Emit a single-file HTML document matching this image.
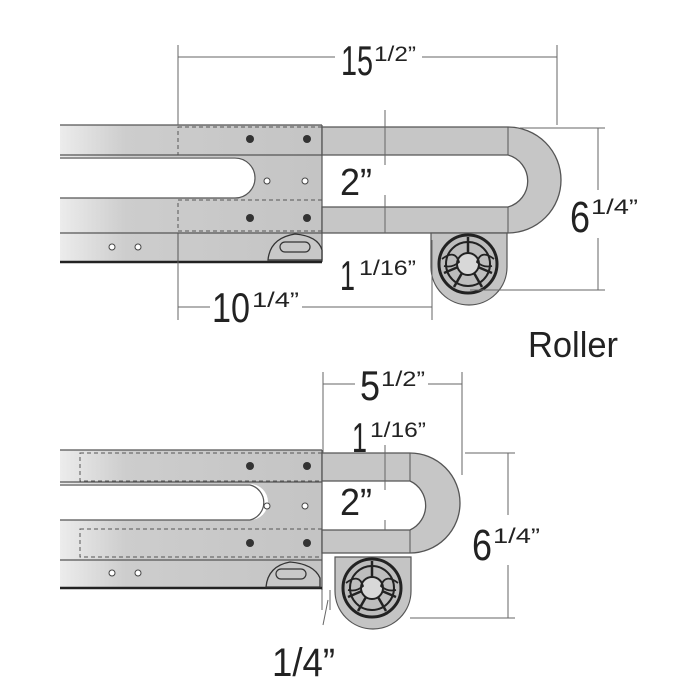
<!DOCTYPE html>
<html><head><meta charset="utf-8"><style>
html,body{margin:0;padding:0;background:#fff;}
svg{display:block}
text{font-family:"Liberation Sans",Arial,sans-serif;fill:#222;}
</style></head><body>
<svg width="700" height="700" viewBox="0 0 700 700" xmlns="http://www.w3.org/2000/svg">
<defs>
<linearGradient id="g" x1="0" x2="1" y1="0" y2="0">
<stop offset="0" stop-color="#ececec"/><stop offset="0.25" stop-color="#cdcdcd"/><stop offset="1" stop-color="#c4c4c4"/>
</linearGradient>
<g id="wheel">
<path d="M-37,-31 H39 V3 A38,38 0 0 1 -37,3 Z" fill="#c4c4c4" stroke="#555" stroke-width="1.2"/>
<circle r="29" fill="#bdbdbd" stroke="#222" stroke-width="3"/>
<circle r="22" fill="none" stroke="#222" stroke-width="2"/>
<circle r="11" fill="#d8d8d8" stroke="#222" stroke-width="2"/>
<g stroke="#222" stroke-width="2.5">
<line x1="0" y1="-11" x2="0" y2="-27"/><line x1="10" y1="3" x2="24" y2="9"/><line x1="-10" y1="3" x2="-24" y2="9"/>
<line x1="6" y1="9" x2="14" y2="23"/><line x1="-6" y1="9" x2="-14" y2="23"/>
</g>
<path d="M-26,-5 Q-13,-15 -9,-2 Q-15,4 -24,2" fill="none" stroke="#222" stroke-width="1.8"/>
<path d="M26,-5 Q13,-15 9,-2 Q15,4 24,2" fill="none" stroke="#222" stroke-width="1.8"/>
</g>
</defs>

<!-- ============ TOP ASSEMBLY ============ -->
<g>
<rect x="60" y="125" width="262" height="137" fill="url(#g)"/>
<path d="M60,157 H235 A20,20 0 0 1 235,198 H60 Z" fill="#fff"/>
<g stroke="#555" stroke-width="1.2" fill="none">
<line x1="60" y1="125" x2="322" y2="125"/>
<line x1="60" y1="155" x2="322" y2="155"/>
<path d="M60,158 H235 A20,20 0 0 1 235,198 H60"/>
<line x1="60" y1="233" x2="322" y2="233"/>
<line x1="322" y1="125" x2="322" y2="262"/>
</g>
<line x1="60" y1="262" x2="322" y2="262" stroke="#222" stroke-width="2.5"/>
<g stroke="#555" stroke-width="1" stroke-dasharray="4,3" fill="none">
<rect x="178" y="127" width="144" height="28"/>
<rect x="178" y="200" width="144" height="31"/>
</g>
<line x1="178" y1="233" x2="178" y2="262" stroke="#555" stroke-width="1"/>
<g fill="#333"><circle cx="250" cy="139" r="4"/><circle cx="307" cy="139" r="4"/><circle cx="250" cy="218" r="4"/><circle cx="307" cy="218" r="4"/></g>
<g fill="#fff" stroke="#444" stroke-width="1"><circle cx="267" cy="181" r="3"/><circle cx="305" cy="181" r="3"/><circle cx="112" cy="247" r="3"/><circle cx="138" cy="247" r="3"/></g>
<path d="M268,260 Q270,238 295,234 Q318,236 322,250 V260 Z" fill="#c8c8c8" stroke="#333" stroke-width="1.3"/>
<rect x="280" y="242" width="30" height="10" rx="5" fill="none" stroke="#333" stroke-width="1.2"/>
<path d="M322,127 H508 A53,53 0 0 1 508,233 H322 V207 H508 A27,27 0 0 0 508,155 H322 Z" fill="#c6c6c6" stroke="#555" stroke-width="1.3"/>
<line x1="508" y1="127" x2="508" y2="155" stroke="#555"/>
<line x1="508" y1="207" x2="508" y2="233" stroke="#555"/>
<use href="#wheel" x="468" y="264"/>
</g>

<!-- top dimensions -->
<g stroke="#666" stroke-width="1" fill="none">
<line x1="178" y1="45" x2="178" y2="125"/><line x1="557" y1="45" x2="557" y2="125"/>
<line x1="178" y1="57" x2="335" y2="57"/><line x1="422" y1="57" x2="557" y2="57"/>
<line x1="385" y1="110" x2="385" y2="155"/><line x1="385" y1="155" x2="385" y2="165"/><line x1="385" y1="195" x2="385" y2="207"/><line x1="385" y1="207" x2="385" y2="233"/>
<line x1="520" y1="128" x2="605" y2="128"/><line x1="470" y1="290" x2="605" y2="290"/>
<line x1="598" y1="128" x2="598" y2="190"/><line x1="598" y1="238" x2="598" y2="290"/>
<line x1="178" y1="262" x2="178" y2="320"/><line x1="432" y1="240" x2="432" y2="320"/>
<line x1="178" y1="307" x2="210" y2="307"/><line x1="302" y1="307" x2="432" y2="307"/>
</g>
<text x="341" y="75" font-size="42" textLength="32" lengthAdjust="spacingAndGlyphs">15</text>
<text x="374" y="61" font-size="21" textLength="42" lengthAdjust="spacingAndGlyphs">1/2”</text>
<text x="340" y="195" font-size="38" textLength="32" lengthAdjust="spacingAndGlyphs">2”</text>
<text x="340" y="290" font-size="42" textLength="15" lengthAdjust="spacingAndGlyphs">1</text>
<text x="359" y="275" font-size="21" textLength="57" lengthAdjust="spacingAndGlyphs">1/16”</text>
<text x="212" y="322" font-size="42" textLength="38" lengthAdjust="spacingAndGlyphs">10</text>
<text x="252" y="307" font-size="21" textLength="47" lengthAdjust="spacingAndGlyphs">1/4”</text>
<text x="570" y="232" font-size="44" textLength="20" lengthAdjust="spacingAndGlyphs">6</text>
<text x="591" y="214" font-size="21" textLength="47" lengthAdjust="spacingAndGlyphs">1/4”</text>
<text x="528" y="357" font-size="36" textLength="90" lengthAdjust="spacingAndGlyphs">Roller</text>

<!-- ============ BOTTOM ASSEMBLY ============ -->
<g>
<rect x="60" y="450" width="262" height="138" fill="url(#g)"/>
<path d="M60,484 H250 A18,18 0 0 1 250,520 H60 Z" fill="#fff"/>
<g stroke="#555" stroke-width="1.2" fill="none">
<line x1="60" y1="450" x2="322" y2="450"/>
<line x1="60" y1="482" x2="322" y2="482"/>
<path d="M60,485 H250 A18,18 0 0 1 250,520 H60"/>
<line x1="60" y1="560" x2="322" y2="560"/>
<line x1="322" y1="450" x2="322" y2="590"/>
</g>
<line x1="60" y1="588" x2="322" y2="588" stroke="#222" stroke-width="2.5"/>
<g stroke="#555" stroke-width="1" stroke-dasharray="4,3" fill="none">
<rect x="80" y="453" width="242" height="28"/>
<rect x="80" y="529" width="242" height="28"/>
</g>
<g fill="#333"><circle cx="250" cy="466" r="4"/><circle cx="307" cy="466" r="4"/><circle cx="250" cy="543" r="4"/><circle cx="307" cy="543" r="4"/></g>
<g fill="#fff" stroke="#444" stroke-width="1"><circle cx="267" cy="506" r="3"/><circle cx="305" cy="506" r="3"/><circle cx="112" cy="573" r="3"/><circle cx="138" cy="573" r="3"/></g>
<path d="M266,587 Q268,566 290,562 Q314,564 320,578 V587 Z" fill="#c8c8c8" stroke="#333" stroke-width="1.3"/>
<rect x="276" y="569" width="30" height="10" rx="5" fill="none" stroke="#333" stroke-width="1.2"/>
<path d="M322,453 H410 A50,50 0 0 1 410,553 H322 V530 H410 A27,27 0 0 0 410,481 H322 Z" fill="#c6c6c6" stroke="#555" stroke-width="1.3"/>
<line x1="410" y1="453" x2="410" y2="481" stroke="#555"/>
<line x1="410" y1="530" x2="410" y2="553" stroke="#555"/>
<use href="#wheel" x="372" y="588"/>
</g>

<!-- bottom dimensions -->
<g stroke="#666" stroke-width="1" fill="none">
<line x1="323" y1="372" x2="323" y2="453"/><line x1="462" y1="372" x2="462" y2="475"/>
<line x1="323" y1="384" x2="355" y2="384"/><line x1="428" y1="384" x2="462" y2="384"/>
<line x1="385" y1="445" x2="385" y2="481"/><line x1="385" y1="481" x2="385" y2="490"/><line x1="385" y1="520" x2="385" y2="530"/>
<line x1="465" y1="453" x2="515" y2="453"/><line x1="410" y1="618" x2="515" y2="618"/>
<line x1="508" y1="453" x2="508" y2="515"/><line x1="508" y1="565" x2="508" y2="618"/>
<line x1="322" y1="590" x2="322" y2="610"/><line x1="330" y1="590" x2="330" y2="610"/>
<line x1="328" y1="600" x2="323" y2="625"/>
</g>
<text x="360" y="400" font-size="42" textLength="20" lengthAdjust="spacingAndGlyphs">5</text>
<text x="381" y="386" font-size="21" textLength="44" lengthAdjust="spacingAndGlyphs">1/2”</text>
<text x="352" y="452" font-size="42" textLength="15" lengthAdjust="spacingAndGlyphs">1</text>
<text x="370" y="437" font-size="21" textLength="56" lengthAdjust="spacingAndGlyphs">1/16”</text>
<text x="340" y="515" font-size="38" textLength="32" lengthAdjust="spacingAndGlyphs">2”</text>
<text x="472" y="560" font-size="44" textLength="20" lengthAdjust="spacingAndGlyphs">6</text>
<text x="493" y="543" font-size="21" textLength="47" lengthAdjust="spacingAndGlyphs">1/4”</text>
<text x="272" y="676" font-size="40" textLength="63" lengthAdjust="spacingAndGlyphs">1/4”</text>
</svg>
</body></html>
